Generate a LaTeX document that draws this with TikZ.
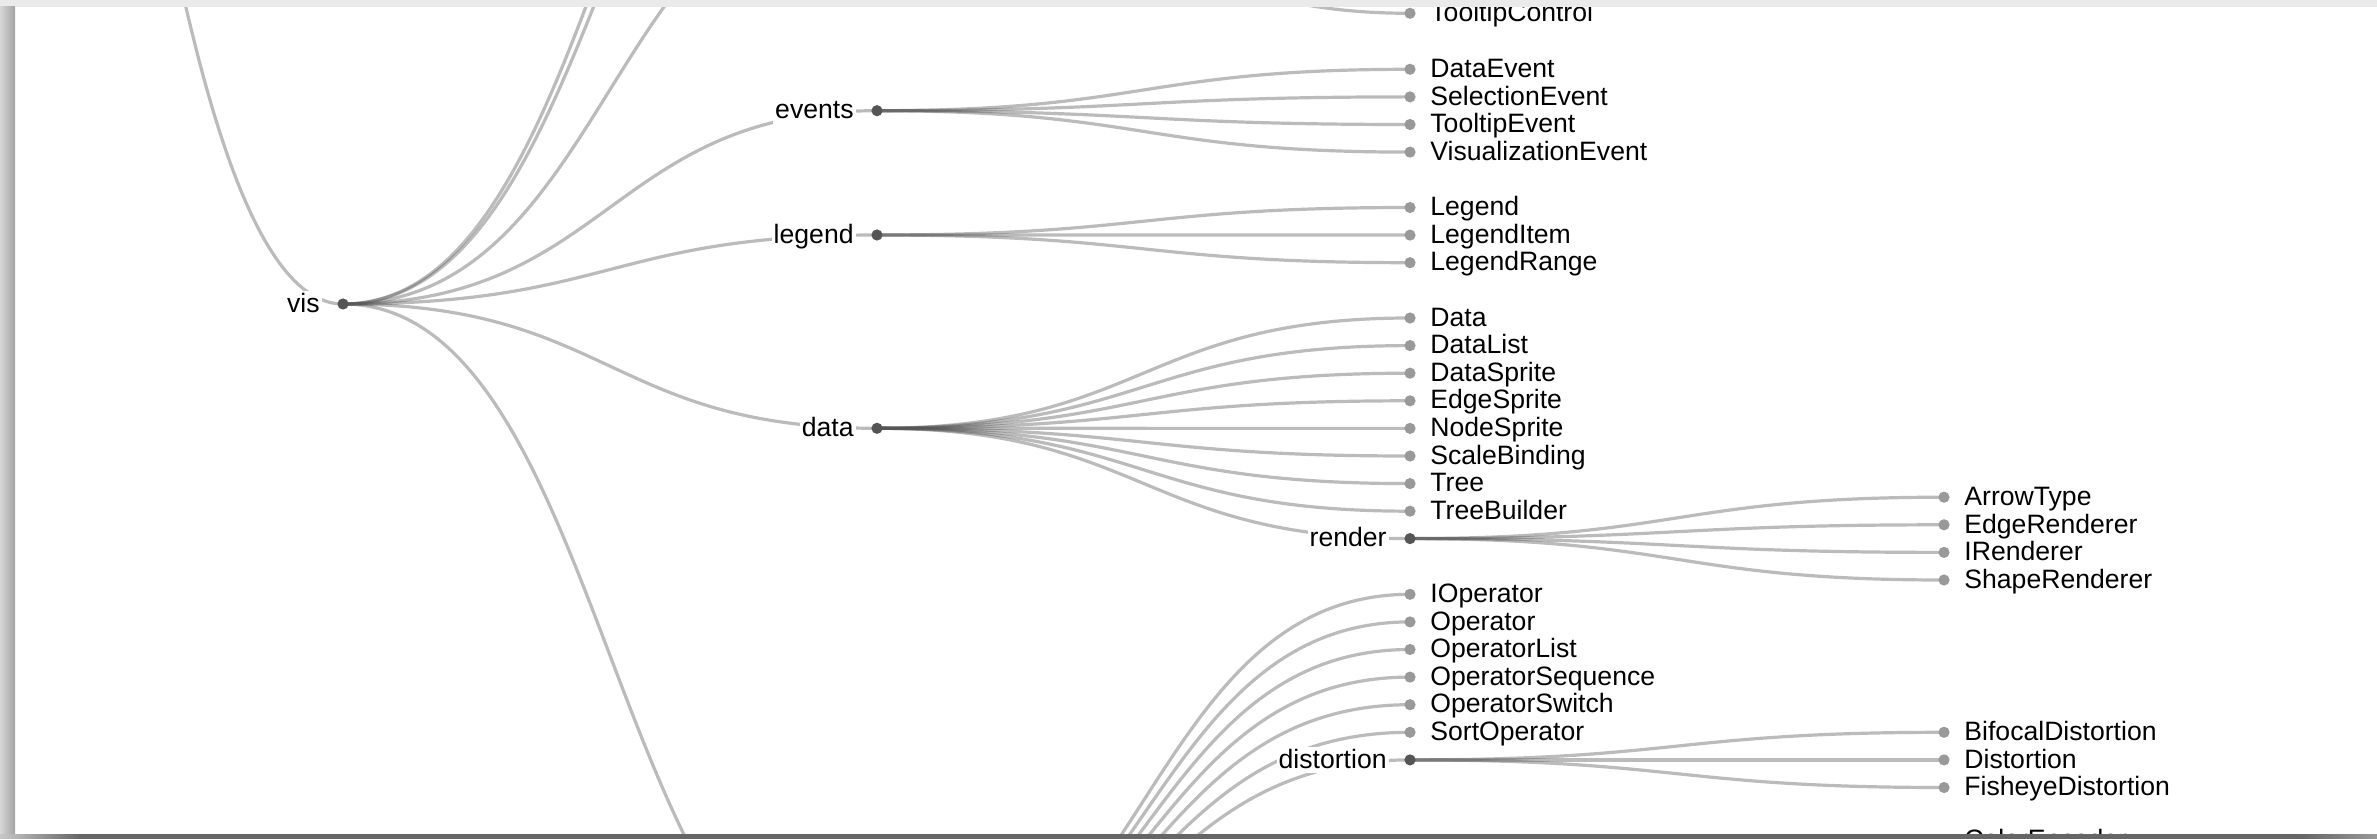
\documentclass[tikz,border=0pt]{standalone}
\usepackage{fontspec}
\setmainfont{Liberation Sans}
\usetikzlibrary{positioning}

\definecolor{linkgray}{HTML}{555555}
\definecolor{innergray}{HTML}{555555}
\definecolor{leafgray}{HTML}{999999}
\definecolor{topbar}{HTML}{EAEAEA}
\definecolor{bottombar}{HTML}{666666}

\tikzset{
  link/.style={draw=linkgray, draw opacity=0.4, line width=1.6pt,
    out=0, in=180, distance=133.5pt},
  dot/.style={circle, inner sep=0pt, minimum size=5.6pt},
  inner/.style={dot, fill=innergray},
  leaf/.style={dot, fill=leafgray},
  lbl/.style={inner sep=1pt, font=\fontsize{13.3}{16}\selectfont,
    text height=9.6pt, text depth=1.4pt},
  inner label/.style={lbl, fill=white},
}

\begin{document}
\begin{tikzpicture}[x=0.5pt, y=-0.5pt]
  \fill[white] (0,0) rectangle (2377,839);
  \begin{scope}
    \clip (15,7) rectangle (2377,834);
    % positions
    \coordinate (flare)         at (-191,-1637);
    \coordinate (vis)           at (343,304);
    \coordinate (visualization) at (877,-420);
    \coordinate (axis)          at (877,-373.1);
    \coordinate (controls)      at (877,-124.7);
    \coordinate (events)        at (877,110.7);
    \coordinate (legend)        at (877,235);
    \coordinate (data)          at (877,428.3);
    \coordinate (operator)      at (877,1007);
    \coordinate (render)        at (1410,538.6);
    \coordinate (distortion)    at (1410,759.9);

    \coordinate (TooltipControl)     at (1410,13.3);
    \coordinate (DataEvent)          at (1410,69.3);
    \coordinate (SelectionEvent)     at (1410,96.9);
    \coordinate (TooltipEvent)       at (1410,124.5);
    \coordinate (VisualizationEvent) at (1410,152.1);
    \coordinate (Legend)             at (1410,207.5);
    \coordinate (LegendItem)         at (1410,235.1);
    \coordinate (LegendRange)        at (1410,262.7);
    \coordinate (Data)               at (1410,318);
    \coordinate (DataList)           at (1410,345.6);
    \coordinate (DataSprite)         at (1410,373.2);
    \coordinate (EdgeSprite)         at (1410,400.8);
    \coordinate (NodeSprite)         at (1410,428.4);
    \coordinate (ScaleBinding)       at (1410,456);
    \coordinate (Tree)               at (1410,483.6);
    \coordinate (TreeBuilder)        at (1410,511.2);
    \coordinate (IOperator)          at (1410,594.3);
    \coordinate (Operator)           at (1410,621.9);
    \coordinate (OperatorList)       at (1410,649.5);
    \coordinate (OperatorSequence)   at (1410,677.1);
    \coordinate (OperatorSwitch)     at (1410,704.7);
    \coordinate (SortOperator)       at (1410,732.3);
    \coordinate (ArrowType)          at (1944,497.2);
    \coordinate (EdgeRenderer)       at (1944,524.8);
    \coordinate (IRenderer)          at (1944,552.4);
    \coordinate (ShapeRenderer)      at (1944,580);
    \coordinate (BifocalDistortion)  at (1944,732.3);
    \coordinate (Distortion)         at (1944,759.9);
    \coordinate (FisheyeDistortion)  at (1944,787.5);
    \coordinate (ColorEncoder)       at (1944,840);

    % links
    \path[link]
      (flare) edge (vis)
      (vis) edge (visualization) edge (axis) edge (controls) edge (events)
            edge (legend) edge (data) edge (operator)
      (controls) edge (TooltipControl)
      (events) edge (DataEvent) edge (SelectionEvent) edge (TooltipEvent)
               edge (VisualizationEvent)
      (legend) edge (Legend) edge (LegendItem) edge (LegendRange)
      (data) edge (Data) edge (DataList) edge (DataSprite) edge (EdgeSprite)
             edge (NodeSprite) edge (ScaleBinding) edge (Tree)
             edge (TreeBuilder) edge (render)
      (render) edge (ArrowType) edge (EdgeRenderer) edge (IRenderer)
               edge (ShapeRenderer)
      (operator) edge (IOperator) edge (Operator) edge (OperatorList)
                 edge (OperatorSequence) edge (OperatorSwitch)
                 edge (SortOperator) edge (distortion)
      (distortion) edge (BifocalDistortion) edge (Distortion)
                   edge (FisheyeDistortion);

    % inner nodes
    \node[inner] (vis_dot)        at (vis)        {};
    \node[inner] (events_dot)     at (events)     {};
    \node[inner] (legend_dot)     at (legend)     {};
    \node[inner] (data_dot)       at (data)       {};
    \node[inner] (render_dot)     at (render)     {};
    \node[inner] (distortion_dot) at (distortion) {};
    \node[inner label, left=7.5pt of vis_dot]        (vis_lbl)        {vis};
    \node[inner label, left=7.5pt of events_dot]     (events_lbl)     {events};
    \node[inner label, left=7.5pt of legend_dot]     (legend_lbl)     {legend};
    \node[inner label, left=7.5pt of data_dot]       (data_lbl)       {data};
    \node[inner label, left=7.5pt of render_dot]     (render_lbl)     {render};
    \node[inner label, left=7.5pt of distortion_dot] (distortion_lbl) {distortion};

    % leaves
    \node[leaf] (TooltipControl_dot)     at (TooltipControl)     {};
    \node[leaf] (DataEvent_dot)          at (DataEvent)          {};
    \node[leaf] (SelectionEvent_dot)     at (SelectionEvent)     {};
    \node[leaf] (TooltipEvent_dot)       at (TooltipEvent)       {};
    \node[leaf] (VisualizationEvent_dot) at (VisualizationEvent) {};
    \node[leaf] (Legend_dot)             at (Legend)             {};
    \node[leaf] (LegendItem_dot)         at (LegendItem)         {};
    \node[leaf] (LegendRange_dot)        at (LegendRange)        {};
    \node[leaf] (Data_dot)               at (Data)               {};
    \node[leaf] (DataList_dot)           at (DataList)           {};
    \node[leaf] (DataSprite_dot)         at (DataSprite)         {};
    \node[leaf] (EdgeSprite_dot)         at (EdgeSprite)         {};
    \node[leaf] (NodeSprite_dot)         at (NodeSprite)         {};
    \node[leaf] (ScaleBinding_dot)       at (ScaleBinding)       {};
    \node[leaf] (Tree_dot)               at (Tree)               {};
    \node[leaf] (TreeBuilder_dot)        at (TreeBuilder)        {};
    \node[leaf] (IOperator_dot)          at (IOperator)          {};
    \node[leaf] (Operator_dot)           at (Operator)           {};
    \node[leaf] (OperatorList_dot)       at (OperatorList)       {};
    \node[leaf] (OperatorSequence_dot)   at (OperatorSequence)   {};
    \node[leaf] (OperatorSwitch_dot)     at (OperatorSwitch)     {};
    \node[leaf] (SortOperator_dot)       at (SortOperator)       {};
    \node[leaf] (ArrowType_dot)          at (ArrowType)          {};
    \node[leaf] (EdgeRenderer_dot)       at (EdgeRenderer)       {};
    \node[leaf] (IRenderer_dot)          at (IRenderer)          {};
    \node[leaf] (ShapeRenderer_dot)      at (ShapeRenderer)      {};
    \node[leaf] (BifocalDistortion_dot)  at (BifocalDistortion)  {};
    \node[leaf] (Distortion_dot)         at (Distortion)         {};
    \node[leaf] (FisheyeDistortion_dot)  at (FisheyeDistortion)  {};
    \node[leaf] (ColorEncoder_dot)       at (ColorEncoder)       {};

    \node[lbl, right=6pt of TooltipControl_dot]     (TooltipControl_lbl)     {TooltipControl};
    \node[lbl, right=6pt of DataEvent_dot]          (DataEvent_lbl)          {DataEvent};
    \node[lbl, right=6pt of SelectionEvent_dot]     (SelectionEvent_lbl)     {SelectionEvent};
    \node[lbl, right=6pt of TooltipEvent_dot]       (TooltipEvent_lbl)       {TooltipEvent};
    \node[lbl, right=6pt of VisualizationEvent_dot] (VisualizationEvent_lbl) {VisualizationEvent};
    \node[lbl, right=6pt of Legend_dot]             (Legend_lbl)             {Legend};
    \node[lbl, right=6pt of LegendItem_dot]         (LegendItem_lbl)         {LegendItem};
    \node[lbl, right=6pt of LegendRange_dot]        (LegendRange_lbl)        {LegendRange};
    \node[lbl, right=6pt of Data_dot]               (Data_lbl)               {Data};
    \node[lbl, right=6pt of DataList_dot]           (DataList_lbl)           {DataList};
    \node[lbl, right=6pt of DataSprite_dot]         (DataSprite_lbl)         {DataSprite};
    \node[lbl, right=6pt of EdgeSprite_dot]         (EdgeSprite_lbl)         {EdgeSprite};
    \node[lbl, right=6pt of NodeSprite_dot]         (NodeSprite_lbl)         {NodeSprite};
    \node[lbl, right=6pt of ScaleBinding_dot]       (ScaleBinding_lbl)       {ScaleBinding};
    \node[lbl, right=6pt of Tree_dot]               (Tree_lbl)               {Tree};
    \node[lbl, right=6pt of TreeBuilder_dot]        (TreeBuilder_lbl)        {TreeBuilder};
    \node[lbl, right=6pt of IOperator_dot]          (IOperator_lbl)          {IOperator};
    \node[lbl, right=6pt of Operator_dot]           (Operator_lbl)           {Operator};
    \node[lbl, right=6pt of OperatorList_dot]       (OperatorList_lbl)       {OperatorList};
    \node[lbl, right=6pt of OperatorSequence_dot]   (OperatorSequence_lbl)   {OperatorSequence};
    \node[lbl, right=6pt of OperatorSwitch_dot]     (OperatorSwitch_lbl)     {OperatorSwitch};
    \node[lbl, right=6pt of SortOperator_dot]       (SortOperator_lbl)       {SortOperator};
    \node[lbl, right=6pt of ArrowType_dot]          (ArrowType_lbl)          {ArrowType};
    \node[lbl, right=6pt of EdgeRenderer_dot]       (EdgeRenderer_lbl)       {EdgeRenderer};
    \node[lbl, right=6pt of IRenderer_dot]          (IRenderer_lbl)          {IRenderer};
    \node[lbl, right=6pt of ShapeRenderer_dot]      (ShapeRenderer_lbl)      {ShapeRenderer};
    \node[lbl, right=6pt of BifocalDistortion_dot]  (BifocalDistortion_lbl)  {BifocalDistortion};
    \node[lbl, right=6pt of Distortion_dot]         (Distortion_lbl)         {Distortion};
    \node[lbl, right=6pt of FisheyeDistortion_dot]  (FisheyeDistortion_lbl)  {FisheyeDistortion};
    \node[lbl, right=6pt of ColorEncoder_dot]       (ColorEncoder_lbl)       {ColorEncoder};
  \end{scope}

  % window edges
  \fill[topbar] (0,0) rectangle (2377,7);
  \shade[left color=black!16, right color=black!36] (0,7) rectangle (15,834);
  \fill[bottombar] (80,834) rectangle (2300,839);
  \shade[left color=black!22, right color=bottombar] (0,834) rectangle (80,839);
  \shade[left color=bottombar, right color=black!40] (2300,834) rectangle (2377,839);
\end{tikzpicture}
\end{document}
